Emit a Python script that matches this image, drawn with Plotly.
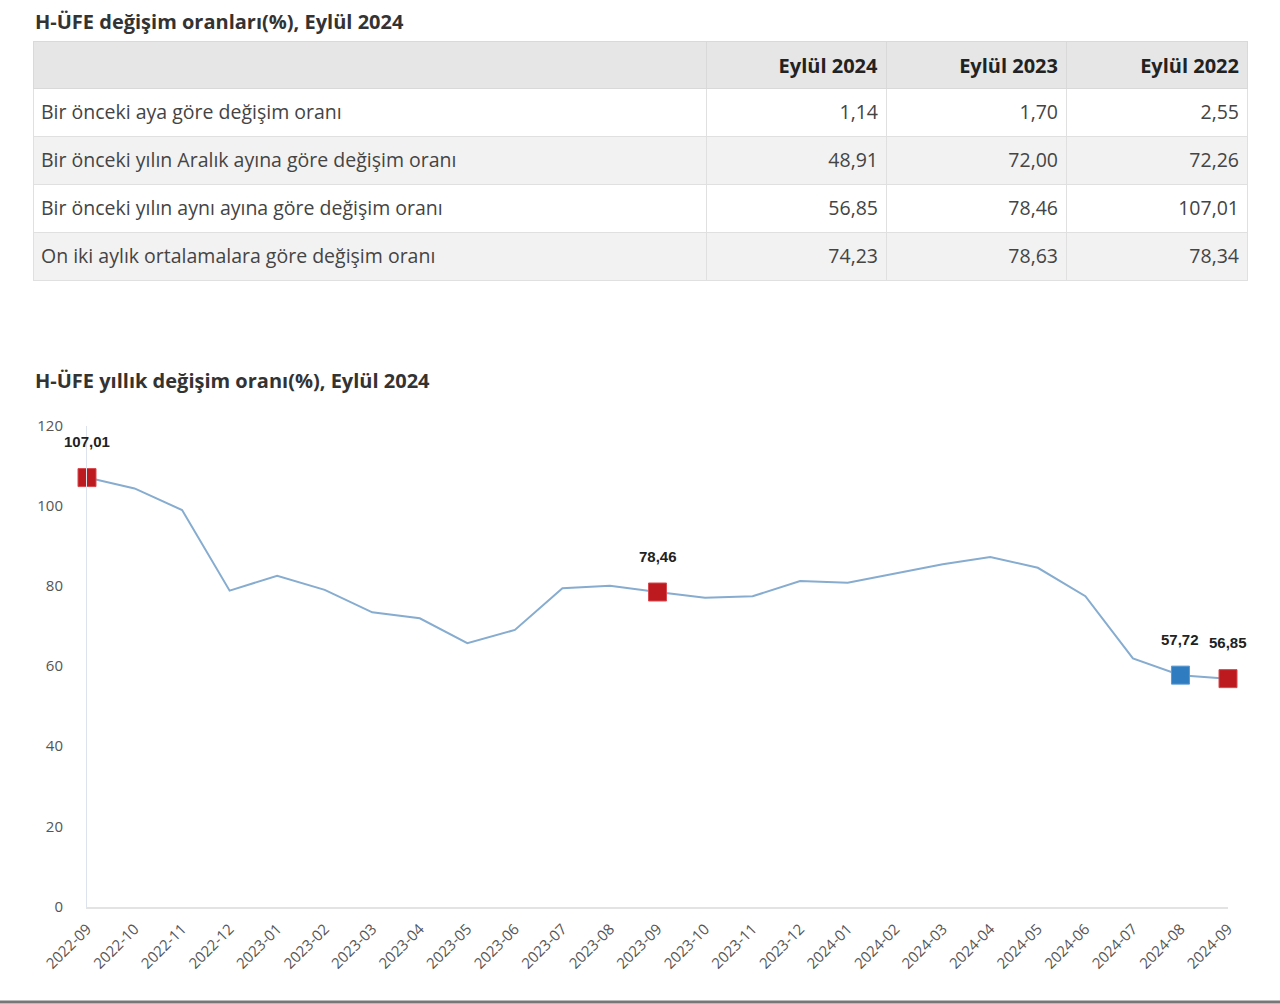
import plotly.graph_objects as go

# ---------------- Data ----------------
table_title = "H-ÜFE değişim oranları(%), Eylül 2024"
chart_title = "H-ÜFE yıllık değişim oranı(%), Eylül 2024"

table_columns = ["", "Eylül 2024", "Eylül 2023", "Eylül 2022"]
table_rows = [
    "Bir önceki aya göre değişim oranı",
    "Bir önceki yılın Aralık ayına göre değişim oranı",
    "Bir önceki yılın aynı ayına göre değişim oranı",
    "On iki aylık ortalamalara göre değişim oranı",
]
sep_2024 = [1.14, 48.91, 56.85, 74.23]
sep_2023 = [1.70, 72.00, 78.46, 78.63]
sep_2022 = [2.55, 72.26, 107.01, 78.34]

months = [
    "2022-09", "2022-10", "2022-11", "2022-12",
    "2023-01", "2023-02", "2023-03", "2023-04", "2023-05", "2023-06",
    "2023-07", "2023-08", "2023-09", "2023-10", "2023-11", "2023-12",
    "2024-01", "2024-02", "2024-03", "2024-04", "2024-05", "2024-06",
    "2024-07", "2024-08", "2024-09",
]
annual_rate = [
    107.01, 104.3, 98.9, 78.8,
    82.5, 79.0, 73.4, 71.9, 65.7, 69.0,
    79.4, 80.0, 78.46, 77.0, 77.4, 81.2,
    80.8, 83.1, 85.4, 87.2, 84.5, 77.4,
    61.9, 57.72, 56.85,
]
red_months = ["2022-09", "2023-09", "2024-09"]
blue_months = ["2024-08"]
y_ticks = [0, 20, 40, 60, 80, 100, 120]


def tr(v):
    return f"{v:.2f}".replace(".", ",")


W, H = 1280, 1004

fig = go.Figure()

# ---------------- Table ----------------
n_rows = len(table_rows)
row_fills = ["#ffffff" if i % 2 == 0 else "#f2f2f2" for i in range(n_rows)]
col_widths = [673, 180, 180, 181]
aligns = ["left", "right", "right", "right"]
cell_values = [table_rows,
               [tr(v) for v in sep_2024],
               [tr(v) for v in sep_2023],
               [tr(v) for v in sep_2022]]
header_values = [f"<b>{c}</b>" if c else "" for c in table_columns]

# background table (fills + borders)
fig.add_trace(go.Table(
    domain=dict(x=[33 / W, 1247 / W], y=[1 - 282 / H, 1 - 41 / H]),
    columnwidth=col_widths,
    header=dict(
        values=[""] * len(table_columns),
        fill_color="#e6e6e6",
        line_color="#d9d9d9",
        height=47,
    ),
    cells=dict(
        values=[[""] * n_rows] * len(table_columns),
        fill_color=[row_fills] * len(table_columns),
        line_color="#e0e0e0",
        height=48,
    ),
))

# text table (transparent), shifted to centre the texts vertically
clear = "rgba(0,0,0,0)"
fig.add_trace(go.Table(
    domain=dict(x=[33 / W, 1247 / W], y=[1 - 290 / H, 1 - 44 / H]),
    columnwidth=col_widths,
    header=dict(
        values=header_values,
        fill_color=clear,
        line_color=clear,
        align=aligns,
        font=dict(family="Open Sans", size=20, color="#222222"),
        height=52,
    ),
    cells=dict(
        values=cell_values,
        fill_color=clear,
        line_color=clear,
        align=aligns,
        font=dict(family="Open Sans", size=19.5, color="#444444"),
        height=48,
    ),
))

# ---------------- Line chart ----------------
fig.add_trace(go.Scatter(
    x=months, y=annual_rate, mode="lines",
    line=dict(color="#86acd0", width=2),
    hoverinfo="skip", showlegend=False, cliponaxis=False,
))

red_y = [annual_rate[months.index(m)] for m in red_months]
blue_y = [annual_rate[months.index(m)] for m in blue_months]

fig.add_trace(go.Scatter(
    x=red_months, y=red_y, mode="markers",
    marker=dict(symbol="square", size=18, color="#bd1a20",
                line=dict(color="#d84a4f", width=1)),
    showlegend=False, cliponaxis=False,
))
fig.add_trace(go.Scatter(
    x=blue_months, y=blue_y, mode="markers",
    marker=dict(symbol="square", size=18, color="#2f7dc0",
                line=dict(color="#5a9ad2", width=1)),
    showlegend=False, cliponaxis=False,
))

for m, v in zip(red_months + blue_months, red_y + blue_y):
    fig.add_annotation(
        x=m, y=v, text=f"<b>{tr(v)}</b>", showarrow=False,
        yshift=36, xref="x", yref="y",
        font=dict(family="Liberation Sans", size=15, color="#222222"),
    )

# Titles
fig.add_annotation(
    x=33 / W, y=1 - 22 / H, xref="paper", yref="paper",
    xanchor="left", yanchor="middle", showarrow=False,
    text=f"<b>{table_title}</b>",
    font=dict(family="Open Sans", size=20, color="#333333"),
)
fig.add_annotation(
    x=33 / W, y=1 - 380 / H, xref="paper", yref="paper",
    xanchor="left", yanchor="middle", showarrow=False,
    text=f"<b>{chart_title}</b>",
    font=dict(family="Open Sans", size=20, color="#333333"),
)

# bottom frame line of the screenshot
fig.add_shape(type="line", xref="paper", yref="paper",
              x0=0, x1=1, y0=2 / H, y1=2 / H,
              line=dict(color="#777777", width=3))

fig.update_layout(
    width=W, height=H,
    margin=dict(l=0, r=0, t=0, b=0, autoexpand=False),
    paper_bgcolor="white", plot_bgcolor="white",
    showlegend=False,
    xaxis=dict(
        domain=[87 / W, 1228 / W],
        type="category",
        range=[0, len(months) - 1],
        tickangle=-45,
        showgrid=False,
        showline=True, linecolor="#e3e3e3", linewidth=1.5,
        ticks="", zeroline=False, automargin=False,
        tickfont=dict(family="Open Sans", size=15, color="#555555"),
        ticklabelstandoff=6,
    ),
    yaxis=dict(
        domain=[1 - 906.5 / H, 1 - 425.5 / H],
        range=[0, 120],
        tickvals=y_ticks,
        ticktext=[str(t) for t in y_ticks],
        showgrid=False, zeroline=False, automargin=False,
        showline=True, linecolor="#dde3ec", linewidth=1,
        ticks="",
        tickfont=dict(family="Open Sans", size=15, color="#555555"),
        ticklabelstandoff=20,
    ),
)

fig.write_html("out.html")
